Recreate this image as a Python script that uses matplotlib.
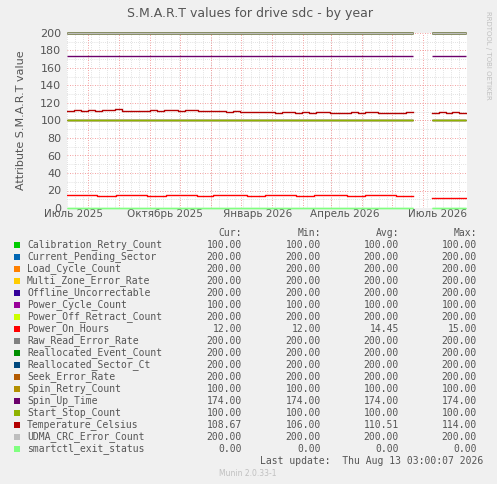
import matplotlib
matplotlib.use("Agg")
import matplotlib.pyplot as plt
import numpy as np

W, H = 497, 484
names = ["Calibration_Retry_Count","Current_Pending_Sector","Load_Cycle_Count","Multi_Zone_Error_Rate",
         "Offline_Uncorrectable","Power_Cycle_Count","Power_Off_Retract_Count","Power_On_Hours",
         "Raw_Read_Error_Rate","Reallocated_Event_Count","Reallocated_Sector_Ct","Seek_Error_Rate",
         "Spin_Retry_Count","Spin_Up_Time","Start_Stop_Count","Temperature_Celsius",
         "UDMA_CRC_Error_Count","smartctl_exit_status"]
colors = ["#00CC00","#0066B3","#FF8000","#FFCC00","#330099","#990099","#CCFF00","#FF0000",
          "#808080","#008F00","#00487D","#B35A00","#B38F00","#6B006B","#8FB300","#B30000",
          "#BEBEBE","#80FF80"]
cur = [100,200,200,200,200,100,200,12,200,200,200,200,100,174,100,108.67,200,0]
mn  = [100,200,200,200,200,100,200,12,200,200,200,200,100,174,100,106,200,0]
avg = [100,200,200,200,200,100,200,14.45,200,200,200,200,100,174,100,110.51,200,0]
mx  = [100,200,200,200,200,100,200,15,200,200,200,200,100,174,100,114,200,0]

# days relative to 2025-07-01; data gap between segments
seg1 = (-21, 325)
seg2 = (344, 378)
poh_breaks = [-21, 9, 28, 59, 78, 109, 125, 159, 177, 208, 226, 259, 277, 308, 325]
poh_vals = [15, 14, 15, 14, 15, 14, 15, 14, 15, 14, 15, 14, 15, 14]
poh_seg2 = 12
temp1 = [111,112,111,112,111,112,112,113,111,111,111,111,112,111,112,112,111,112,112,111,
         111,111,111,110,111,110,110,110,110,110,109,110,110,109,110,109,110,110,109,109,
         109,110,109,110,110,109,108,109,109,110]
temp2 = [109,110,109,110,109]

fig = plt.figure(figsize=(W/100, H/100), dpi=100, facecolor="#F0F0F0")
ax = fig.add_axes([67/W, 1-208/H, 400/W, 175/H])
ax.set_facecolor("white")
x0, x1 = -21, 379
ax.set_xlim(x0, x1); ax.set_ylim(0, 200)

# grid
for d in np.arange(-21, 379, 8):
    ax.axvline(d, color="#C8C8C8", lw=0.5, ls=(0, (1, 2)), zorder=0)
for y in range(10, 200, 20):
    ax.axhline(y, color="#C8C8C8", lw=0.5, ls=(0, (1, 2)), zorder=0)
months = [0, 31, 62, 92, 123, 153, 184, 215, 243, 274, 304, 335]
for d in months:
    ax.axvline(d, color="#F08080", lw=0.6, ls=(0, (1, 2)), zorder=0.5)
for y in range(20, 201, 20):
    ax.axhline(y, color="#F08080", lw=0.6, ls=(0, (1, 2)), zorder=0.5)

def flat(i, val):
    for a, b in (seg1, seg2):
        ax.plot([a, b], [val, val], color=colors[i], lw=1, solid_capstyle="butt", clip_on=False)

for i, v in enumerate(cur):
    if names[i] in ("Power_On_Hours", "Temperature_Celsius"):
        continue
    flat(i, v)
# Power_On_Hours
xs = poh_breaks; ys = poh_vals + [poh_vals[-1]]
ax.step(xs, ys, where="post", color=colors[7], lw=1)
ax.plot([seg2[0], seg2[1]], [poh_seg2]*2, color=colors[7], lw=1)
# Temperature
t1x = np.linspace(seg1[0], seg1[1], len(temp1) + 1)
ax.step(t1x, temp1 + [temp1[-1]], where="post", color=colors[15], lw=1)
t2x = np.linspace(seg2[0], seg2[1], len(temp2) + 1)
ax.step(t2x, temp2 + [temp2[-1]], where="post", color=colors[15], lw=1)
# redraw 0 line on top
flat(17, 0)

ax.set_yticks(range(0, 201, 20))
ax.set_xticks([-15, 77, 170, 257, 350])
ax.set_xticklabels(["Июль 2025", "Октябрь 2025", "Январь 2026", "Апрель 2026", "Июль 2026"])
ax.tick_params(axis="y", labelsize=8, colors="#555555", length=0, pad=4)
ax.tick_params(axis="x", labelsize=7.5, colors="#555555", length=0, pad=1)
for s in ax.spines.values():
    s.set_visible(False)
ax.set_ylabel("Attribute S.M.A.R.T value", fontsize=8, color="#555555", labelpad=10)
fig.text(250/W, 1-13/H, "S.M.A.R.T values for drive sdc - by year", ha="center", va="center",
         fontsize=9, color="#555555")
fig.text(488/W, 1-55/H, "RRDTOOL / TOBI OETIKER", rotation=270, ha="center", va="center",
         fontsize=5, color="#C0C0C0")

mono = dict(family="DejaVu Sans Mono", fontsize=7, color="#555555", va="center")
cols = [242, 321, 399, 477]
for c, hdr in zip(cols, ["Cur:", "Min:", "Avg:", "Max:"]):
    fig.text(c/W, 1-233/H, hdr, ha="right", **mono)
for i, n in enumerate(names):
    y = 245 + 12*i
    fig.patches.append(plt.Rectangle((14/W, 1-(y+3)/H), 6/W, 6/H, transform=fig.transFigure,
                                     facecolor=colors[i], edgecolor="none"))
    fig.text(27/W, 1-y/H, n, ha="left", **mono)
    for c, v in zip(cols, [cur[i], mn[i], avg[i], mx[i]]):
        fig.text(c/W, 1-y/H, f"{v:.2f}", ha="right", **mono)
fig.text(483/W, 1-461/H, "Last update:  Thu Aug 13 03:00:07 2026", ha="right", **mono)
fig.text(248/W, 1-473/H, "Munin 2.0.33-1", ha="center", va="center", fontsize=5.5, color="#C0C0C0")
fig.savefig("out.png", dpi=100, facecolor=fig.get_facecolor())
